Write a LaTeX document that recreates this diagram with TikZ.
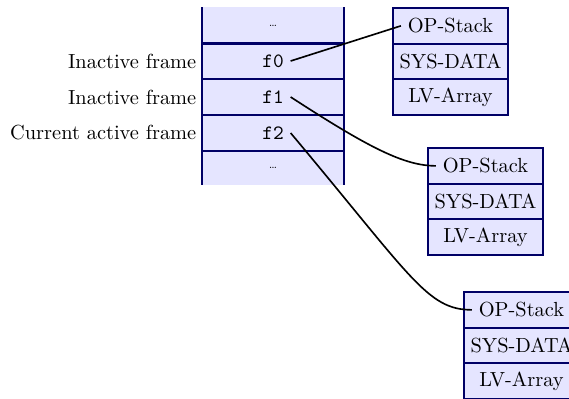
\documentclass[tikz,border=0pt]{standalone}
\begin{document}
\begin{tikzpicture}[x=0.49pt,y=-0.49pt,
  cellfill/.style={fill=blue!10,draw=none,inner sep=0pt,outer sep=0pt,
    minimum width=69.6pt,minimum height=17.64pt},
  rowbox/.style={fill=blue!10,draw=edgecol,line width=1pt,inner sep=0pt,outer sep=0pt,
    minimum width=56.4pt,minimum height=17.5pt},
  txt/.style={inner sep=3.2pt},
  conn/.style={draw=black,line width=0.8pt},
  edge/.style={draw=edgecol,line width=1.1pt}]
\colorlet{edgecol}{blue!40!black}
\useasboundingbox (0,0) rectangle (569,399);

% call stack column
\node[cellfill] (c0) at (273,25.5) {};
\node[cellfill] (c1) at (273,61) {};
\node[cellfill] (c2) at (273,97) {};
\node[cellfill] (c3) at (273,133) {};
\node[cellfill] (c4) at (273,167.5) {};
\draw[edge] (c0.north west) -- (c4.south west);
\draw[edge] (c0.north east) -- (c4.south east);
\foreach \a/\b in {c0/c1,c1/c2,c2/c3,c3/c4}
  \draw[edge] (\a.south west) -- (\a.south east);

\node[txt] (d0) at (c0) {\tiny\ldots};
\node[txt] (f0) at (c1) {\texttt{f0}};
\node[txt] (f1) at (c2) {\texttt{f1}};
\node[txt] (f2) at (c3) {\texttt{f2}};
\node[txt] (d1) at (c4) {\tiny\ldots};

\node[txt,inner sep=2.6pt,anchor=east] (l0) at (c1.west) {Inactive frame};
\node[txt,inner sep=2.6pt,anchor=east] (l1) at (c2.west) {Inactive frame};
\node[txt,inner sep=2.6pt,anchor=east] (l2) at (c3.west) {Current active frame};

% frame records
\foreach \n/\x/\y in {1/450.5/8,2/485.5/148,3/521.5/292}{
  \node[rowbox,anchor=north] (op\n box) at (\x,\y) {};
  \node[rowbox,anchor=north] (sd\n box) at (op\n box.south) {};
  \node[rowbox,anchor=north] (lv\n box) at (sd\n box.south) {};
  \node[txt] (op\n) at (op\n box) {OP-Stack};
  \node[txt] (sd\n) at (sd\n box) {SYS-DATA};
  \node[txt] (lv\n) at (lv\n box) {LV-Array};
}

% links from frames to their records
\draw[conn] (f0.east) -- (op1.west);
\draw[conn] (f1.east) to[out=-33,in=180,out looseness=1.5,in looseness=0.5] (op2.west);
\draw[conn] (f2.east) to[out=-50,in=180,out looseness=1.9,in looseness=0.45] (op3.west);
\end{tikzpicture}
\end{document}
